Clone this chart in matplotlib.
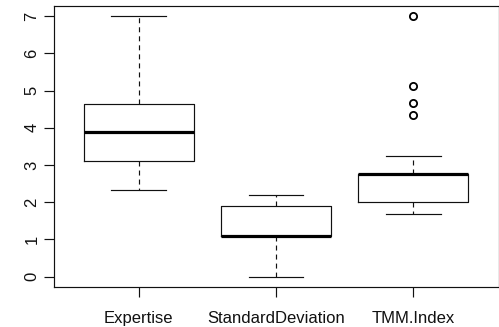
import matplotlib
matplotlib.use("Agg")
import matplotlib.pyplot as plt

categories = ["Expertise", "StandardDeviation", "TMM.Index"]
whisker_low = [2.33, 0.00, 1.69]
q1 = [3.11, 1.09, 2.01]
median = [3.89, 1.09, 2.76]
q3 = [4.65, 1.89, 2.76]
whisker_high = [7.00, 2.20, 3.25]
outliers = [[], [], [7.00, 5.12, 4.66, 4.34]]
y_ticks = [0, 1, 2, 3, 4, 5, 6, 7]

plt.rcParams['font.family'] = ['Liberation Sans', 'DejaVu Sans']
plt.rcParams['lines.scale_dashes'] = False

fig = plt.figure(figsize=(4.99, 3.27), dpi=100)
ax = fig.add_axes([53.5/499, 1 - 287/327, (498.5-53.5)/499, (287-5.8)/327])

stats = []
for i, name in enumerate(categories):
    stats.append(dict(label=name, whislo=whisker_low[i], q1=q1[i], med=median[i],
                      q3=q3[i], whishi=whisker_high[i], fliers=outliers[i]))

lw = 0.85
ax.bxp(stats, positions=[1, 2, 3], widths=0.8,
       boxprops=dict(color='#111111', linewidth=lw),
       medianprops=dict(color='black', linewidth=2.3, solid_capstyle='butt'),
       whiskerprops=dict(color='#111111', linewidth=lw, linestyle=(0, (3.6, 2.9))),
       capprops=dict(color='#111111', linewidth=lw),
       capwidths=0.4,
       flierprops=dict(marker='o', markerfacecolor='none', markeredgecolor='black',
                       markersize=5.2, markeredgewidth=1.3, linestyle='none'))

ax.set_xlim(0.38, 3.62)
ax.set_ylim(-0.28, 7.28)
ax.set_yticks(y_ticks)
ax.set_yticklabels([str(t) for t in y_ticks], rotation=90, va='center')
ax.set_xticks([1, 2, 3])
ax.set_xticklabels(categories)
ax.tick_params(axis='both', direction='out', length=7.2, width=lw, labelsize=12,
               color='#111111', labelcolor='#111111')
ax.tick_params(axis='y', pad=3)
ax.tick_params(axis='x', pad=10)
for s in ax.spines.values():
    s.set_linewidth(lw)
    s.set_color('#111111')

fig.savefig("out.png", dpi=100)
